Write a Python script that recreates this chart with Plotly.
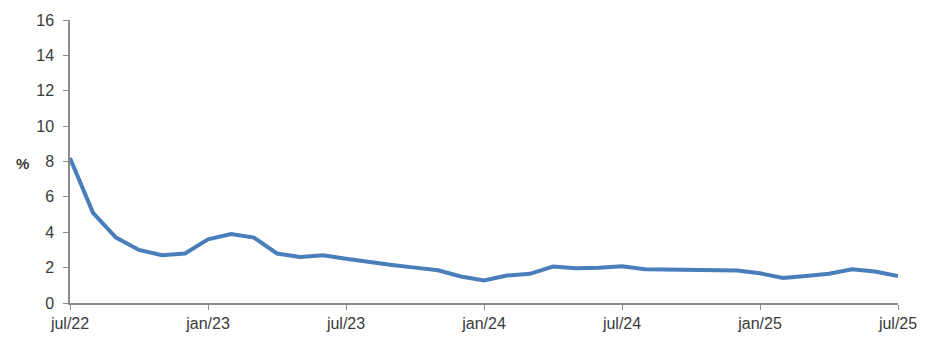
import plotly.graph_objects as go

months = ["jul/22","aug/22","sep/22","oct/22","nov/22","dec/22",
          "jan/23","feb/23","mar/23","apr/23","may/23","jun/23",
          "jul/23","aug/23","sep/23","oct/23","nov/23","dec/23",
          "jan/24","feb/24","mar/24","apr/24","may/24","jun/24",
          "jul/24","aug/24","sep/24","oct/24","nov/24","dec/24",
          "jan/25","feb/25","mar/25","apr/25","may/25","jun/25","jul/25"]
values = [8.2, 5.1, 3.7, 3.0, 2.7, 2.8,
          3.6, 3.9, 3.7, 2.8, 2.6, 2.7,
          2.5, 2.3, 2.15, 2.0, 1.85, 1.5,
          1.27, 1.55, 1.65, 2.06, 1.97, 2.0,
          2.08, 1.91, 1.9, 1.88, 1.9, 1.84,
          1.68, 1.41, 1.53, 1.65, 1.91, 1.78, 1.53]
tick_labels = ["jul/22","jan/23","jul/23","jan/24","jul/24","jan/25","jul/25"]
y_ticks = [0, 2, 4, 6, 8, 10, 12, 14, 16]

x_idx = list(range(len(months)))
tick_pos = [months.index(t) for t in tick_labels]

fig = go.Figure()
fig.add_trace(go.Scatter(x=x_idx, y=values, mode="lines",
                         line=dict(color="#4a7ebb", width=4), hoverinfo="skip"))

font = dict(family="Liberation Sans, Arial, sans-serif", size=16, color="#3a3a3a")
L, R, T, B = 62, 47, 12, 60
fig.update_layout(
    width=937, height=355,
    margin=dict(l=L, r=R, t=T, b=B),
    paper_bgcolor="white", plot_bgcolor="white",
    showlegend=False,
    font=font,
    xaxis=dict(range=[0, 36], tickvals=tick_pos, ticktext=tick_labels,
               showgrid=False, zeroline=False, showline=True, automargin=False,
               linecolor="#8c8c8c", linewidth=1.5, ticks="outside",
               ticklen=5, tickcolor="#8c8c8c", tickfont=font),
    yaxis=dict(range=[0, 16], tickvals=y_ticks,
               showgrid=False, zeroline=False, showline=True, automargin=False,
               linecolor="#8c8c8c", linewidth=1.5, ticks="outside",
               ticklen=5, tickcolor="#8c8c8c", tickfont=font,
               ticklabelstandoff=6),
)
plot_w = 937 - L - R
plot_h = 355 - T - B
fig.add_annotation(text="<b>%</b>", x=(14 - 8 - L) / plot_w, y=(355 - B - (163 - 8)) / plot_h,
                   xref="paper", yref="paper", showarrow=False,
                   font=dict(family="Liberation Sans, Arial", size=15, color="#3a3a3a"))
fig.write_html("out.html")
